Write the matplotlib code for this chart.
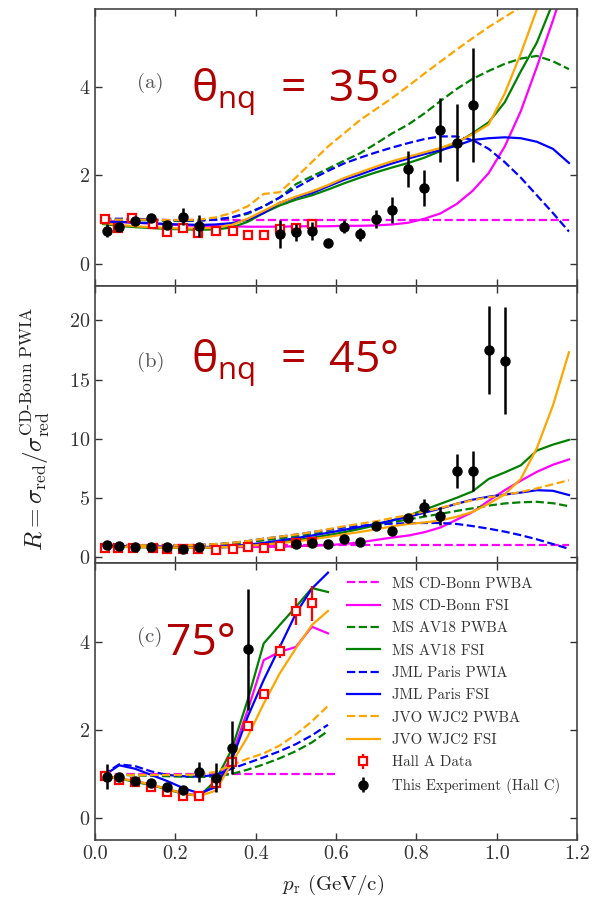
import matplotlib
matplotlib.use('Agg')
import matplotlib.pyplot as plt
import numpy as np

plt.rcParams['font.family'] = ['cmr10', 'DejaVu Sans']
plt.rcParams['mathtext.fontset'] = 'cm'
plt.rcParams['axes.formatter.use_mathtext'] = True
# custom math font only used for the big red angle labels
plt.rcParams['mathtext.rm'] = 'Open Sans'
plt.rcParams['mathtext.it'] = 'Open Sans:italic'
plt.rcParams['mathtext.bf'] = 'Open Sans:bold'

# ---- theory grid ----
x_th = [0.02, 0.06, 0.10, 0.14, 0.18, 0.22, 0.26, 0.30, 0.34, 0.38, 0.42, 0.46, 0.50, 0.54, 0.58,
        0.62, 0.66, 0.70, 0.74, 0.78, 0.82, 0.86, 0.90, 0.94, 0.98, 1.02, 1.06, 1.10, 1.14, 1.18]
x_th_c = [0.02, 0.06, 0.10, 0.14, 0.18, 0.22, 0.26, 0.30, 0.34, 0.38, 0.42, 0.46, 0.50, 0.54, 0.58]

# ---- panel (a), theta_nq = 35 deg ----
a_cdbonn_pwba = [1.0] * 30
a_cdbonn_fsi = [0.97, 0.95, 0.93, 0.91, 0.89, 0.87, 0.86, 0.85, 0.85, 0.84, 0.84, 0.84, 0.85, 0.85, 0.85,
                0.86, 0.86, 0.87, 0.89, 0.93, 1.02, 1.14, 1.35, 1.65, 2.05, 2.65, 3.45, 4.45, 5.5, 6.6]
a_av18_pwba = [1.0, 1.0, 1.0, 0.98, 0.97, 0.97, 0.98, 1.0, 1.05, 1.13, 1.3, 1.5, 1.8, 1.98, 2.15,
               2.33, 2.5, 2.72, 2.95, 3.15, 3.4, 3.68, 3.95, 4.18, 4.36, 4.52, 4.64, 4.7, 4.58, 4.4]
a_av18_fsi = [0.9, 0.86, 0.83, 0.81, 0.79, 0.78, 0.77, 0.78, 0.82, 0.95, 1.15, 1.32, 1.45, 1.55, 1.68,
              1.82, 1.95, 2.07, 2.18, 2.28, 2.4, 2.55, 2.73, 2.95, 3.2, 3.65, 4.35, 5.0, 5.9, 6.8]
a_paris_pwia = [1.02, 1.02, 1.02, 1.0, 0.99, 0.98, 0.98, 1.0, 1.05, 1.15, 1.3, 1.5, 1.72, 1.92, 2.1,
                2.27, 2.4, 2.52, 2.63, 2.73, 2.82, 2.88, 2.88, 2.8, 2.6, 2.3, 1.95, 1.55, 1.15, 0.73]
a_paris_fsi = [0.95, 0.95, 0.93, 0.92, 0.9, 0.89, 0.88, 0.89, 0.92, 1.0, 1.15, 1.38, 1.5, 1.6, 1.75,
               1.9, 2.02, 2.15, 2.27, 2.38, 2.48, 2.57, 2.67, 2.8, 2.84, 2.86, 2.84, 2.76, 2.6, 2.28]
a_wjc2_pwba = [1.0, 1.0, 1.0, 1.0, 0.99, 0.99, 1.0, 1.05, 1.15, 1.3, 1.58, 1.62, 1.95, 2.3, 2.65,
               2.95, 3.25, 3.5, 3.75, 4.02, 4.3, 4.57, 4.84, 5.1, 5.35, 5.58, 5.8, 6.05, 6.3, 6.55]
a_wjc2_fsi = [0.92, 0.88, 0.85, 0.83, 0.81, 0.8, 0.8, 0.82, 0.88, 1.02, 1.2, 1.38, 1.52, 1.64, 1.78,
              1.94, 2.07, 2.2, 2.32, 2.42, 2.52, 2.62, 2.75, 2.93, 3.15, 3.85, 4.75, 5.75, 6.8, 7.8]

a_hallA_x = [0.025, 0.057, 0.091, 0.145, 0.18, 0.22, 0.256, 0.30, 0.343, 0.382, 0.42, 0.46, 0.50, 0.54]
a_hallA_y = [1.01, 0.82, 1.03, 0.90, 0.72, 0.82, 0.69, 0.75, 0.75, 0.66, 0.66, 0.78, 0.82, 0.90]
a_hallA_e = [0.03, 0.03, 0.03, 0.03, 0.03, 0.03, 0.04, 0.1, 0.04, 0.04, 0.04, 0.1, 0.1, 0.12]
a_hallC_x = [0.03, 0.06, 0.10, 0.14, 0.18, 0.22, 0.26, 0.46, 0.50, 0.54, 0.58, 0.62, 0.66, 0.70,
             0.74, 0.78, 0.82, 0.86, 0.90, 0.94]
a_hallC_y = [0.75, 0.84, 0.98, 1.03, 0.87, 1.07, 0.86, 0.68, 0.71, 0.75, 0.47, 0.84, 0.67, 1.02,
             1.22, 2.15, 1.71, 3.03, 2.74, 3.59]
a_hallC_e = [0.15, 0.08, 0.06, 0.06, 0.08, 0.2, 0.25, 0.31, 0.2, 0.2, 0.08, 0.15, 0.15, 0.2,
             0.3, 0.41, 0.41, 0.72, 0.87, 1.28]

# ---- panel (b), theta_nq = 45 deg ----
b_cdbonn_pwba = [1.0] * 30
b_cdbonn_fsi = [0.95, 0.93, 0.9, 0.88, 0.86, 0.85, 0.84, 0.84, 0.84, 0.85, 0.86, 0.88, 0.92, 0.96, 1.01,
                1.1, 1.25, 1.45, 1.65, 1.82, 2.1, 2.5, 3.15, 3.8, 4.75, 5.65, 6.45, 7.2, 7.8, 8.25]
b_av18_pwba = [1.0, 1.0, 1.0, 1.0, 1.0, 0.99, 1.0, 1.05, 1.13, 1.25, 1.42, 1.58, 1.75, 1.92, 2.1,
               2.3, 2.5, 2.7, 2.95, 3.18, 3.42, 3.65, 3.9, 4.12, 4.35, 4.53, 4.63, 4.67, 4.55, 4.3]
b_av18_fsi = [0.9, 0.87, 0.84, 0.82, 0.8, 0.78, 0.78, 0.8, 0.86, 0.97, 1.1, 1.25, 1.42, 1.62, 1.85,
              2.1, 2.38, 2.7, 3.1, 3.5, 4.0, 4.5, 5.0, 5.55, 6.6, 7.15, 7.75, 9.0, 9.5, 9.9]
b_paris_pwia = [1.0, 1.0, 1.0, 1.0, 1.0, 1.0, 1.03, 1.1, 1.2, 1.35, 1.55, 1.72, 1.9, 2.1, 2.3,
                2.5, 2.65, 2.75, 2.82, 2.86, 2.88, 2.88, 2.8, 2.62, 2.4, 2.15, 1.85, 1.5, 1.1, 0.7]
b_paris_fsi = [0.95, 0.94, 0.92, 0.9, 0.88, 0.86, 0.85, 0.87, 0.93, 1.05, 1.2, 1.4, 1.6, 1.82, 2.05,
               2.3, 2.55, 2.8, 3.1, 3.4, 3.75, 4.1, 4.5, 4.85, 5.1, 5.28, 5.45, 5.65, 5.6, 5.24]
b_wjc2_pwba = [1.0, 1.0, 1.0, 1.0, 1.0, 1.0, 1.03, 1.1, 1.2, 1.35, 1.55, 1.72, 1.9, 2.1, 2.35,
               2.6, 2.82, 3.02, 3.3, 3.55, 3.85, 4.15, 4.5, 4.8, 5.05, 5.25, 5.5, 5.8, 6.15, 6.5]
b_wjc2_fsi = [0.92, 0.88, 0.85, 0.83, 0.81, 0.8, 0.8, 0.82, 0.87, 0.95, 1.05, 1.18, 1.32, 1.5, 1.7,
              1.92, 2.12, 2.35, 2.6, 2.8, 2.92, 3.1, 3.4, 3.82, 4.5, 5.3, 6.6, 9.2, 12.8, 17.3]

b_hallA_x = [0.025, 0.057, 0.095, 0.145, 0.18, 0.22, 0.256, 0.30, 0.343, 0.382, 0.42, 0.46, 0.50, 0.54]
b_hallA_y = [0.8, 0.8, 0.8, 0.8, 0.7, 0.7, 0.65, 0.6, 0.68, 0.88, 0.78, 0.95, 1.15, 1.25]
b_hallA_e = [0.05] * 14
b_hallC_x = [0.03, 0.06, 0.10, 0.14, 0.18, 0.22, 0.26, 0.50, 0.54, 0.58, 0.62, 0.66, 0.70, 0.74,
             0.78, 0.82, 0.86, 0.90, 0.94, 0.98, 1.02]
b_hallC_y = [1.01, 0.93, 0.88, 0.88, 0.88, 0.65, 0.88, 1.1, 1.21, 1.07, 1.52, 1.29, 2.62, 2.22,
             3.3, 4.2, 3.46, 7.3, 7.3, 17.5, 16.6]
b_hallC_e = [0.1, 0.1, 0.1, 0.1, 0.1, 0.1, 0.1, 0.1, 0.1, 0.1, 0.1, 0.1, 0.2, 0.2,
             0.3, 0.73, 0.75, 1.43, 1.7, 3.75, 4.5]

# ---- panel (c), theta_nq = 75 deg ----
x_pwba_c = [0.02, 0.60]
c_cdbonn_pwba = [1.0, 1.0]
c_cdbonn_fsi = [0.95, 0.9, 0.84, 0.76, 0.66, 0.56, 0.52, 0.75, 1.4, 2.45, 3.59, 3.78, 3.89, 4.35, 4.2]
c_av18_pwba = [0.98, 0.98, 0.97, 0.96, 0.95, 0.94, 0.93, 0.95, 1.0, 1.1, 1.22, 1.36, 1.52, 1.72, 1.98]
c_av18_fsi = [0.95, 0.9, 0.82, 0.75, 0.65, 0.55, 0.5, 0.85, 1.55, 2.68, 3.97, 4.39, 4.8, 5.23, 5.14]
c_paris_pwia = [0.98, 1.22, 1.18, 1.06, 0.98, 0.95, 0.94, 0.98, 1.12, 1.25, 1.38, 1.52, 1.68, 1.88, 2.12]
c_paris_fsi = [0.95, 1.2, 1.12, 0.98, 0.84, 0.68, 0.56, 0.7, 1.3, 2.3, 3.14, 3.89, 4.65, 5.22, 5.58]
c_wjc2_pwba = [0.98, 0.98, 0.98, 0.98, 0.98, 0.98, 0.99, 1.05, 1.2, 1.35, 1.47, 1.65, 1.9, 2.2, 2.55]
c_wjc2_fsi = [0.95, 0.9, 0.84, 0.76, 0.66, 0.56, 0.5, 0.62, 1.24, 1.85, 2.6, 3.29, 3.86, 4.39, 4.71]

c_hallA_x = [0.025, 0.06, 0.10, 0.14, 0.18, 0.22, 0.26, 0.30, 0.34, 0.38, 0.42, 0.46, 0.50, 0.54]
c_hallA_y = [0.95, 0.86, 0.83, 0.71, 0.60, 0.51, 0.49, 0.80, 1.28, 2.09, 2.82, 3.80, 4.70, 4.88]
c_hallA_e = [0.04, 0.04, 0.04, 0.04, 0.04, 0.04, 0.04, 0.2, 0.15, 0.06, 0.06, 0.15, 0.3, 0.4]
c_hallC_x = [0.03, 0.06, 0.10, 0.14, 0.18, 0.22, 0.26, 0.30, 0.34, 0.38]
c_hallC_y = [0.94, 0.94, 0.85, 0.80, 0.71, 0.63, 1.05, 0.92, 1.6, 3.84]
c_hallC_e = [0.29, 0.08, 0.06, 0.06, 0.06, 0.06, 0.23, 0.32, 0.6, 1.38]

labels = ['MS CD-Bonn PWBA', 'MS CD-Bonn FSI', 'MS AV18 PWBA', 'MS AV18 FSI',
          'JML Paris PWIA', 'JML Paris FSI', 'JVO WJC2 PWBA', 'JVO WJC2 FSI']
colors = ['#ff00ff', '#ff00ff', '#008000', '#008000', '#0000ff', '#0000ff', '#ffa500', '#ffa500']
styles = ['--', '-', '--', '-', '--', '-', '--', '-']

panels = [
    dict(x=[x_th] * 8, curves=[a_cdbonn_pwba, a_cdbonn_fsi, a_av18_pwba, a_av18_fsi,
                                a_paris_pwia, a_paris_fsi, a_wjc2_pwba, a_wjc2_fsi],
         hA=(a_hallA_x, a_hallA_y, a_hallA_e), hC=(a_hallC_x, a_hallC_y, a_hallC_e),
         ylim=(-0.5, 5.76), yticks=[0, 2, 4]),
    dict(x=[x_th] * 8, curves=[b_cdbonn_pwba, b_cdbonn_fsi, b_av18_pwba, b_av18_fsi,
                                b_paris_pwia, b_paris_fsi, b_wjc2_pwba, b_wjc2_fsi],
         hA=(b_hallA_x, b_hallA_y, b_hallA_e), hC=(b_hallC_x, b_hallC_y, b_hallC_e),
         ylim=(-0.5, 22.9), yticks=[0, 5, 10, 15, 20]),
    dict(x=[x_pwba_c] + [x_th_c] * 7,
         curves=[c_cdbonn_pwba, c_cdbonn_fsi, c_av18_pwba, c_av18_fsi,
                 c_paris_pwia, c_paris_fsi, c_wjc2_pwba, c_wjc2_fsi],
         hA=(c_hallA_x, c_hallA_y, c_hallA_e), hC=(c_hallC_x, c_hallC_y, c_hallC_e),
         ylim=(-0.5, 5.8), yticks=[0, 2, 4]),
]

fig = plt.figure(figsize=(6.02, 9.14), dpi=100)
gs = fig.add_gridspec(3, 1, left=95/602, right=577/602, top=1-9/914, bottom=1-840/914, hspace=0)
axes = []
for i, p in enumerate(panels):
    ax = fig.add_subplot(gs[i], sharex=axes[0] if axes else None)
    axes.append(ax)
    for xv, yv, lab, col, ls in zip(p['x'], p['curves'], labels, colors, styles):
        ax.plot(xv, yv, ls, color=col, lw=1.6, label=lab)
    ax.errorbar(*p['hA'], fmt='s', ms=6, mfc='white', mec='red', mew=1.6, ecolor='red',
                elinewidth=1.6, capsize=0, label='Hall A Data', zorder=5)
    ax.errorbar(*p['hC'], fmt='o', ms=6.5, color='black', elinewidth=1.8, capsize=0,
                label='This Experiment (Hall C)', zorder=6)
    ax.set_xlim(0, 1.2)
    ax.set_ylim(*p['ylim'])
    ax.set_yticks(p['yticks'])
    ax.tick_params(direction='in', top=True, right=True, length=5, width=1, labelsize=14.5,
                   color='#333333', labelcolor='#333333')
    for sp in ax.spines.values():
        sp.set_color('#444444')
        sp.set_linewidth(1.2)
    if i < 2:
        ax.tick_params(labelbottom=False)

axes[2].set_xticks([0.0, 0.2, 0.4, 0.6, 0.8, 1.0, 1.2])
axes[2].set_xticklabels(['0.0', '0.2', '0.4', '0.6', '0.8', '1.0', '1.2'])

red = '#b00000'
angle_kw = dict(color=red, fontsize=32, fontfamily='Open Sans', math_fontfamily='custom')
axes[0].text(0.105, 4.1, '(a)', fontsize=15, color='#555555', va='center')
axes[0].text(0.24, 3.68, r'$\mathrm{\theta}_{\mathrm{nq}}$  =  35°', va='baseline', **angle_kw)
axes[1].text(0.105, 16.5, '(b)', fontsize=15, color='#555555', va='center')
axes[1].text(0.24, 15.65, r'$\mathrm{\theta}_{\mathrm{nq}}$  =  45°', va='baseline', **angle_kw)
axes[2].text(0.104, 4.12, '(c)', fontsize=15, color='#555555', va='center')
axes[2].text(0.176, 3.70, '75°', va='baseline', **angle_kw)

axes[2].legend(loc='upper left', bbox_to_anchor=(0.523, 0.95), frameon=False, fontsize=10.7,
               borderpad=0, borderaxespad=0, handlelength=2.2, handletextpad=0.8,
               labelspacing=0.58, labelcolor='#333333')

fig.text(333/602, 1-885/914, r'$p_{\rm r}$ (GeV/c)', ha='center', va='center', fontsize=15,
         color='#222222')
fig.text(35/602, 1-429/914, r'$R = \sigma_{\rm red}/\sigma_{\rm red}^{\rm CD\text{-}Bonn\ PWIA}$',
         rotation=90, ha='center', va='center', fontsize=18, color='#222222')

fig.savefig('out.png', dpi=100)
